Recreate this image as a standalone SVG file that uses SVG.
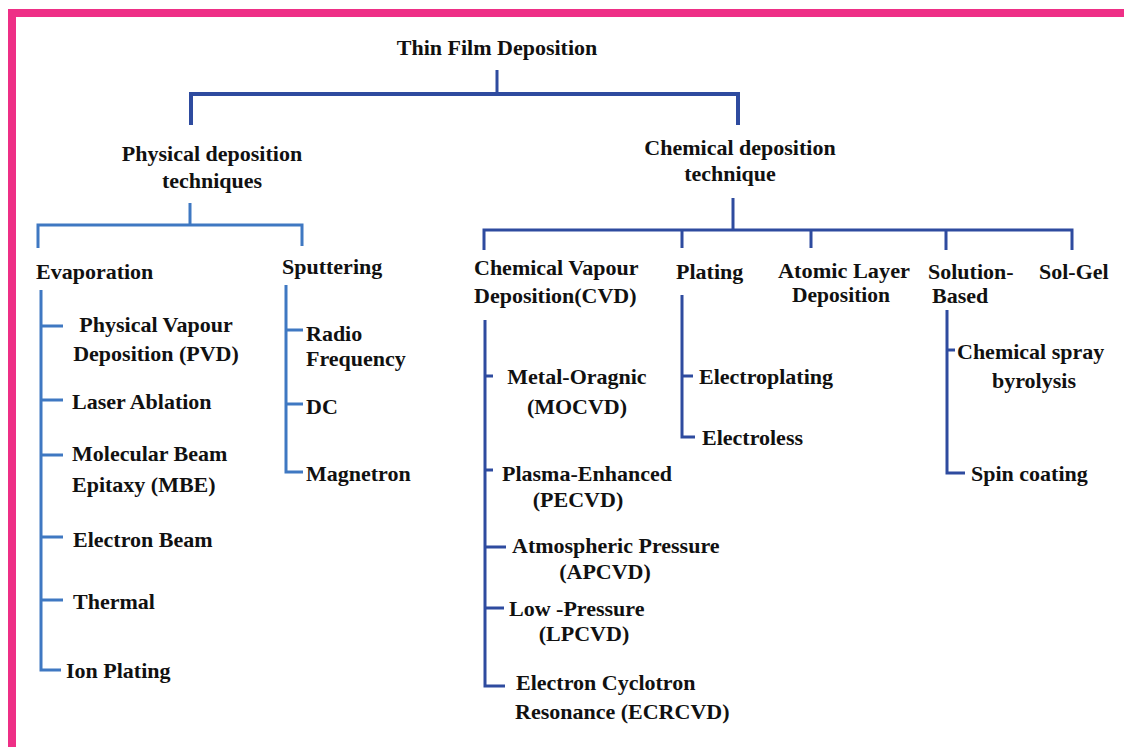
<svg xmlns="http://www.w3.org/2000/svg" width="1124" height="747" viewBox="0 0 1124 747">
  <style>
    text { font-family: "Liberation Serif", "Times New Roman", serif; font-weight: bold; font-size: 22px; fill: #111; }
    .mid { text-anchor: middle; }
    .tight { font-size: 20px; }
    .dark { stroke: #2e4b9f; stroke-width: 3; fill: none; }
    .light { stroke: #3f78c2; stroke-width: 3; fill: none; }
    .top { stroke: #2e4b9f; stroke-width: 4; fill: none; }
  </style>
  <rect x="0" y="0" width="1124" height="747" fill="#fff"/>
  <!-- frame -->
  <rect x="8" y="9" width="1116" height="8" fill="#ee2f86"/>
  <rect x="8" y="9" width="8" height="738" fill="#ee2f86"/>

  <g id="connectors">
    <!-- root to main branches -->
    <path class="dark" d="M497 70 V94"/>
    <path class="top" d="M191 125 V94 H738 V125"/>
    <!-- physical branch -->
    <path class="light" d="M190 203 V225"/>
    <path class="light" d="M38 248 V225 H302 V246"/>
    <!-- evaporation -->
    <path class="light" d="M41 290 V670 H61"/>
    <path class="light" d="M41 326 H63 M41 400 H63 M41 455 H63 M41 537 H63 M41 600 H63"/>
    <!-- sputtering -->
    <path class="light" d="M286 285 V472 H303"/>
    <path class="light" d="M286 330 H303 M286 404 H303"/>
    <!-- chemical branch -->
    <path class="dark" d="M733 198 V230"/>
    <path class="dark" d="M484 250 V230 H1072 V250 M682 230 V248 M811 230 V248 M946 230 V250"/>
    <!-- CVD -->
    <path class="dark" d="M485 320 V686 H505"/>
    <path class="dark" d="M485 376 H493 M485 470 H493 M485 547 H506 M485 608 H504"/>
    <!-- plating -->
    <path class="dark" d="M682 295 V437 H695"/>
    <path class="dark" d="M682 376 H693"/>
    <!-- solution based -->
    <path class="dark" d="M947 310 V473 H965"/>
    <path class="dark" d="M947 350 H955"/>
  </g>

  <g id="root"><text x="497" y="55" class="mid">Thin Film Deposition</text></g>

  <g id="physical">
    <text x="212" y="161" class="mid">Physical deposition</text>
    <text x="212" y="188" class="mid">techniques</text>
  </g>
  <g id="evaporation"><text x="36" y="279">Evaporation</text></g>
  <g id="pvd">
    <text x="156" y="332" class="mid">Physical Vapour</text>
    <text x="156" y="361" class="mid">Deposition (PVD)</text>
  </g>
  <g id="laser"><text x="72" y="409">Laser Ablation</text></g>
  <g id="mbe">
    <text x="72" y="461">Molecular Beam</text>
    <text x="72" y="492">Epitaxy (MBE)</text>
  </g>
  <g id="ebeam"><text x="73" y="547">Electron Beam</text></g>
  <g id="thermal"><text x="73" y="609">Thermal</text></g>
  <g id="ion"><text x="66" y="678">Ion Plating</text></g>

  <g id="sputtering"><text x="282" y="274">Sputtering</text></g>
  <g id="rf">
    <text x="306" y="341">Radio</text>
    <text x="306" y="366">Frequency</text>
  </g>
  <g id="dc"><text x="306" y="414">DC</text></g>
  <g id="magnetron"><text x="306" y="481">Magnetron</text></g>

  <g id="chemical">
    <text x="740" y="155" class="mid">Chemical  deposition</text>
    <text x="730" y="181" class="mid">technique</text>
  </g>
  <g id="cvd">
    <text x="474" y="275">Chemical Vapour</text>
    <text x="474" y="303">Deposition(CVD)</text>
  </g>
  <g id="mocvd">
    <text x="577" y="384" class="mid">Metal-Oragnic</text>
    <text x="577" y="414" class="mid">(MOCVD)</text>
  </g>
  <g id="pecvd">
    <text x="502" y="481">Plasma-Enhanced</text>
    <text x="578" y="507" class="mid">(PECVD)</text>
  </g>
  <g id="apcvd">
    <text x="512" y="553">Atmospheric Pressure</text>
    <text x="605" y="579" class="mid">(APCVD)</text>
  </g>
  <g id="lpcvd">
    <text x="509" y="616">Low -Pressure</text>
    <text x="584" y="641" class="mid">(LPCVD)</text>
  </g>
  <g id="ecrcvd">
    <text x="516" y="690">Electron Cyclotron</text>
    <text x="515" y="719">Resonance (ECRCVD)</text>
  </g>

  <g id="plating"><text x="676" y="279">Plating</text></g>
  <g id="electroplating"><text x="699" y="384">Electroplating</text></g>
  <g id="electroless"><text x="702" y="445">Electroless</text></g>

  <g id="ald">
    <text x="844" y="278" class="mid tight" textLength="132" lengthAdjust="spacingAndGlyphs">Atomic Layer</text>
    <text x="841" y="302" class="mid tight" textLength="98" lengthAdjust="spacingAndGlyphs">Deposition</text>
  </g>

  <g id="solution">
    <text x="928" y="279">Solution-</text>
    <text x="932" y="303">Based</text>
  </g>
  <g id="spray">
    <text x="957" y="359">Chemical spray</text>
    <text x="1034" y="388" class="mid">byrolysis</text>
  </g>
  <g id="spin"><text x="971" y="481">Spin coating</text></g>

  <g id="solgel"><text x="1039" y="279">Sol-Gel</text></g>
</svg>
